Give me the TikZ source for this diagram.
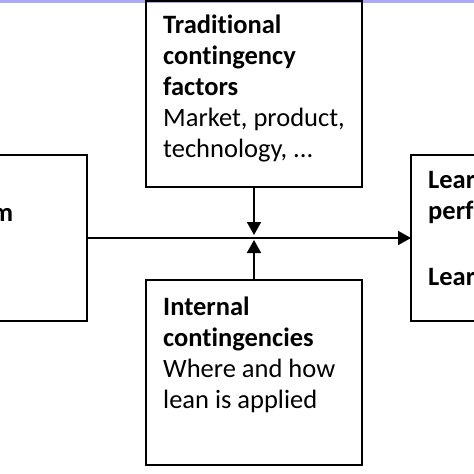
\documentclass[tikz,border=0pt]{standalone}
\usepackage{fontspec}
\setmainfont[Ligatures=NoCommon]{Carlito}
\usetikzlibrary{positioning, calc, arrows.meta}
\definecolor{bandcol}{RGB}{172,170,244}

\begin{document}
\begin{tikzpicture}[x=1pt, y=-1pt,
		box/.style={draw, line width=1.8pt, inner sep=0pt, outer sep=0pt, anchor=north west},
		txt/.style={align=left, inner sep=0pt, anchor=base west, font=\fontsize{26.5}{31}\selectfont},
		arr/.style={-{Triangle[width=14pt, length=13pt]}, line width=1.8pt}]
			\useasboundingbox (0,0) rectangle (474,474);
			\fill [bandcol] (0,0) rectangle (474,2.5);
			% boxes
			\node (trad) [box, minimum width=216pt, minimum height=186pt] at (146,1) {};
			\node (intl) [box, minimum width=216pt, minimum height=185pt] at (146,280) {};
			\node (prog) [box, minimum width=97pt, minimum height=166pt] at (-10,155) {};
			\node (perf) [box, minimum width=80pt, minimum height=166pt] at (411,155) {};
			% texts (base = last line)
			\node (tradtxt) [txt] at (163,157) {\textbf{Traditional}\\\textbf{contingency}\\\textbf{factors}\\Market, product,\\technology, ...};
			\node (intltxt) [txt] at (163,408) {\textbf{Internal}\\\textbf{contingencies}\\Where and how\\lean is applied};
			\node (progtxt) [txt, anchor=base east] at (13.5,221) {\textbf{m}};
			\node (perftxt) [txt] at (428,219) {\textbf{Lear}\\\textbf{perf}};
			\node (perftxt2) [txt] at (428,285) {\textbf{Lear}};
			\coordinate (mid) at (254,238.5);
			% arrows
			\draw [arr] (prog) -- (perf);
			\draw [arr, shorten >=3.5pt] (trad) -- (mid);
			\draw [arr, shorten >=1.5pt] (intl) -- (mid);
\end{tikzpicture}
\end{document}
